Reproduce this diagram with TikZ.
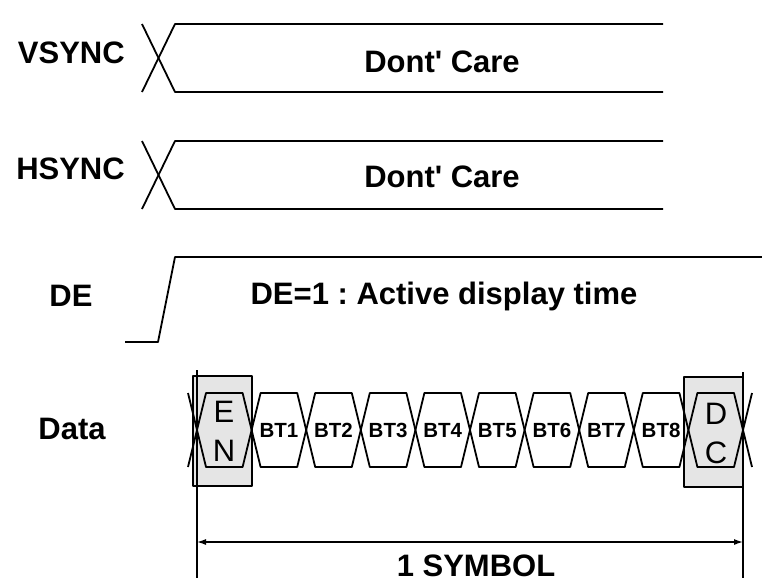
\documentclass[tikz,border=0pt]{standalone}
\usepackage{fontspec}
\setmainfont{Liberation Sans}[Ligatures=TeXOff]
\usetikzlibrary{arrows.meta}
\frenchspacing

\begin{document}
\begin{tikzpicture}[x=1pt, y=-1pt, line width=1.8pt, line join=round,
  sig/.style={font=\fontsize{31}{36}\selectfont\bfseries},
  btlbl/.style={font=\fontsize{20.5}{24}\selectfont\bfseries, inner sep=0pt, anchor=base},
  code/.style={font=\fontsize{31}{36}\selectfont, inner sep=0pt},
  ctrlbox/.style={draw, line width=1.8pt, fill=black!10}]
  \useasboundingbox (0,0) rectangle (762,582);
  % VSYNC: don't care
  \node[sig, anchor=east] (vsync) at (129,53) {VSYNC};
  \draw (142,24) -- (175,92) -- (663,92);
  \draw (142,92) -- (175,24) -- (663,24);
  \node[sig] (vcare) at (442,62) {Dont' Care};
  % HSYNC: don't care
  \node[sig, anchor=east] (hsync) at (129,169) {HSYNC};
  \draw (142,141) -- (175,209) -- (663,209);
  \draw (142,209) -- (175,141) -- (663,141);
  \node[sig] (hcare) at (442,177) {Dont' Care};
  % DE rising edge
  \node[sig] (de) at (71,296) {DE};
  \draw (125,342) -- (158,342) -- (175,257) -- (762,257);
  \node[sig] (detext) at (444,296) {DE=1 : Active display time};
  % Data: EN | BT1..BT8 | DC, cell width 54.6
  \node[sig] (data) at (72,429) {Data};
  \draw[ctrlbox] (193,376) rectangle (252,486);
  \draw[ctrlbox] (684,377) rectangle (743,487);
  \foreach \k in {0,...,9} {
    \pgfmathsetmacro\xa{197+\k*54.6}
    \pgfmathsetmacro\xb{\xa+54.6}
    \draw (\xa,430) -- (\xa+9,393) -- (\xb-9,393) -- (\xb,430)
      -- (\xb-9,467) -- (\xa+9,467) -- cycle;
  }
  \draw (188,393) -- (197,430) -- (188,467);
  \draw (752,393) -- (743,430) -- (752,467);
  \foreach \k in {1,...,8}
    \node[btlbl] (bt\k) at ({197+(\k+0.5)*54.6},437.5) {BT\k};
  \node[code] (en-e) at (224,412) {E};
  \node[code] (en-n) at (224,451) {N};
  \node[code] (dc-d) at (716,414) {D};
  \node[code] (dc-c) at (716,453) {C};
  % one symbol
  \coordinate (symL) at (197,542);
  \coordinate (symR) at (743,542);
  \draw (197,370) -- (197,578);
  \draw (743,372) -- (743,578);
  \draw[line width=1.3pt, {Latex[length=9pt,width=6pt]}-{Latex[length=9pt,width=6pt]}] (symL) -- (symR);
  \node[sig] (symbol) at (476,566) {1 SYMBOL};
\end{tikzpicture}
\end{document}
